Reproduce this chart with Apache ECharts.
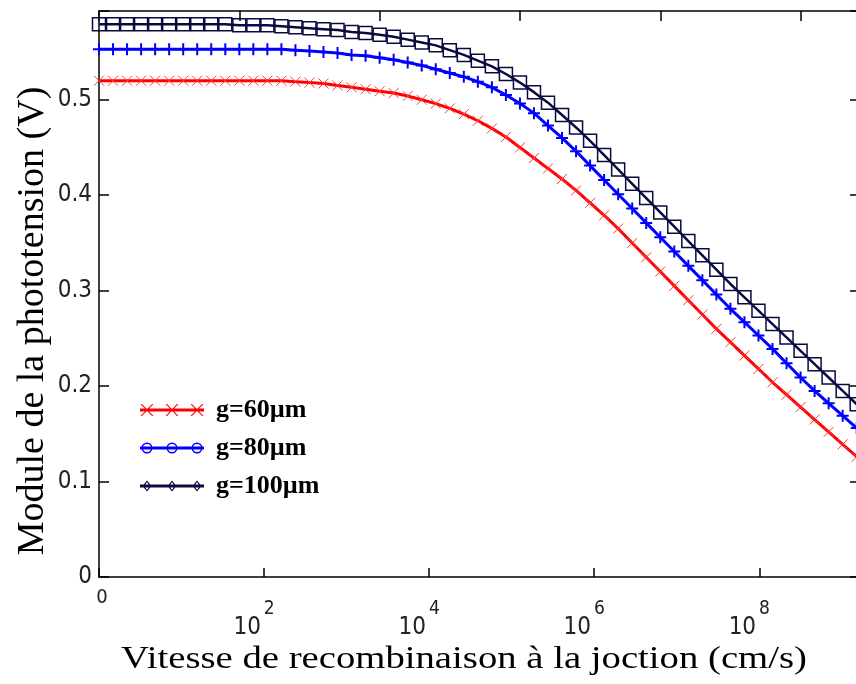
<!DOCTYPE html>
<html>
<head>
<meta charset="utf-8">
<title>Module de la phototension</title>
<script src="https://cdn.jsdelivr.net/npm/echarts@6/dist/echarts.min.js"></script>
<style>
  html, body { margin: 0; padding: 0; background: #fff; }
  #chart { width: 856px; height: 684px; }
</style>
</head>
<body>
<div id="chart"></div>
<script>
// abscisse : exposant de la vitesse S (cm/s), 0 -> 10^0
var sExp = [0, 0.17, 0.34, 0.51, 0.68, 0.85, 1.02, 1.19, 1.36, 1.53,
  1.70, 1.87, 2.04, 2.21, 2.38, 2.55, 2.72, 2.89, 3.06, 3.23,
  3.40, 3.57, 3.74, 3.91, 4.08, 4.25, 4.42, 4.59, 4.76, 4.93,
  5.10, 5.27, 5.44, 5.61, 5.78, 5.95, 6.12, 6.29, 6.46, 6.63,
  6.80, 6.97, 7.14, 7.31, 7.48, 7.65, 7.82, 7.99, 8.16, 8.33,
  8.50, 8.67, 8.84, 9.01, 9.18];

// module de la phototension (V)
var vG60 = [0.520, 0.520, 0.520, 0.520, 0.520, 0.520, 0.520, 0.520, 0.520, 0.520,
  0.520, 0.520, 0.520, 0.520, 0.519, 0.518, 0.517, 0.515, 0.513, 0.511,
  0.509, 0.507, 0.504, 0.500, 0.496, 0.491, 0.485, 0.478, 0.470, 0.461,
  0.450, 0.439, 0.428, 0.417, 0.405, 0.392, 0.379, 0.365, 0.350, 0.335,
  0.320, 0.305, 0.290, 0.275, 0.260, 0.246, 0.232, 0.218, 0.204, 0.191,
  0.178, 0.165, 0.152, 0.139, 0.126];
var vG80 = [0.553, 0.553, 0.553, 0.553, 0.553, 0.553, 0.553, 0.553, 0.553, 0.553,
  0.553, 0.553, 0.553, 0.553, 0.552, 0.551, 0.550, 0.549, 0.547, 0.546,
  0.544, 0.542, 0.539, 0.536, 0.532, 0.528, 0.524, 0.519, 0.513, 0.505,
  0.496, 0.486, 0.473, 0.460, 0.446, 0.431, 0.416, 0.401, 0.386, 0.371,
  0.356, 0.341, 0.326, 0.311, 0.296, 0.281, 0.267, 0.253, 0.239, 0.224,
  0.209, 0.195, 0.182, 0.169, 0.156];
var vG100 = [0.579, 0.579, 0.579, 0.579, 0.579, 0.579, 0.579, 0.579, 0.579, 0.579,
  0.578, 0.578, 0.578, 0.577, 0.576, 0.575, 0.574, 0.573, 0.571, 0.570,
  0.568, 0.566, 0.563, 0.560, 0.557, 0.552, 0.547, 0.541, 0.535, 0.527,
  0.518, 0.508, 0.497, 0.484, 0.471, 0.457, 0.442, 0.427, 0.412, 0.397,
  0.382, 0.367, 0.352, 0.337, 0.322, 0.307, 0.293, 0.279, 0.265, 0.251,
  0.237, 0.223, 0.209, 0.195, 0.181];

var names = ['g=60µm', 'g=80µm', 'g=100µm'];
var xTickExp = [0, 2, 4, 6, 8];
var yTicks = [0, 0.1, 0.2, 0.3, 0.4, 0.5];

var narrow = "'Liberation Sans Narrow', 'DejaVu Sans Condensed', 'Liberation Sans', sans-serif";
var serif = "'Liberation Serif', 'DejaVu Serif', serif";

function pairs(ys) {
  return sExp.map(function (e, i) { return [e, ys[i]]; });
}

// icones de legende (trait + 3 marqueurs), 64 x 12
var iconX = 'path://M0 4.5H64V7.5H0Z' +
  'M0.5 0H2L13.5 12H12ZM12 0H13.5L2 12H0.5Z' +
  'M25.5 0H27L38.5 12H37ZM37 0H38.5L27 12H25.5Z' +
  'M50.5 0H52L63.5 12H62ZM62 0H63.5L52 12H50.5Z';
var iconO = 'path://M0 4.5H64V7.5H0Z' +
  'M12.5 6A5.5 5.5 0 1 1 1.5 6A5.5 5.5 0 1 1 12.5 6ZM11 6A4 4 0 1 0 3 6A4 4 0 1 0 11 6Z' +
  'M37.5 6A5.5 5.5 0 1 1 26.5 6A5.5 5.5 0 1 1 37.5 6ZM36 6A4 4 0 1 0 28 6A4 4 0 1 0 36 6Z' +
  'M62.5 6A5.5 5.5 0 1 1 51.5 6A5.5 5.5 0 1 1 62.5 6ZM61 6A4 4 0 1 0 53 6A4 4 0 1 0 61 6Z';
var iconD = 'path://M0 4.5H64V7.5H0Z' +
  'M7 0.5L11.5 6L7 11.5L2.5 6ZM7 2.3L4 6L7 9.7L10 6Z' +
  'M32 0.5L36.5 6L32 11.5L27.5 6ZM32 2.3L29 6L32 9.7L35 6Z' +
  'M57 0.5L61.5 6L57 11.5L52.5 6ZM57 2.3L54 6L57 9.7L60 6Z';

var chart = echarts.init(document.getElementById('chart'), null, { renderer: 'canvas' });

var frame = { color: '#000', width: 1.5 };

chart.setOption({
  animation: false,
  backgroundColor: '#fff',
  grid: { left: 99, right: -4, top: 11, bottom: 107, outerBoundsMode: 'none' },
  legend: {
    left: 135,
    top: 392,
    orient: 'vertical',
    itemWidth: 64,
    itemHeight: 12,
    itemGap: 12,
    selectedMode: false,
    textStyle: {
      fontFamily: serif, fontWeight: 'bold', fontSize: 26, color: '#000',
      lineHeight: 26, padding: [0, 0, 0, 7]
    },
    data: [
      { name: names[0], icon: iconX, itemStyle: { color: '#ff0000', borderWidth: 0 } },
      { name: names[1], icon: iconO, itemStyle: { color: '#0000ff', borderWidth: 0 } },
      { name: names[2], icon: iconD, itemStyle: { color: '#0a0a40', borderWidth: 0 } }
    ]
  },
  xAxis: [
    {
      type: 'value',
      position: 'bottom',
      min: 0,
      max: 9.22,
      interval: 2,
      axisLine: { show: true, onZero: false, lineStyle: frame },
      axisTick: { show: true, inside: true, length: 9, lineStyle: frame },
      splitLine: { show: false },
      axisLabel: {
        margin: 43,
        verticalAlign: 'middle',
        formatter: function (v) {
          if (xTickExp.indexOf(v) < 0) return '';
          if (v === 0) return '{z|0}';
          return '{b|10}{sup|' + v + '}';
        },
        rich: {
          z: { fontFamily: narrow, fontSize: 20, color: '#222', padding: [0, 0, 44, 6] },
          b: { fontFamily: narrow, fontSize: 24, color: '#222', verticalAlign: 'bottom' },
          sup: { fontFamily: narrow, fontSize: 19, color: '#222', verticalAlign: 'top', padding: [0, 20, 21, 3] }
        }
      }
    },
    {
      type: 'value',
      position: 'top',
      min: 0,
      max: 9.22,
      interval: 1.7,
      axisLine: { show: true, onZero: false, lineStyle: frame },
      axisTick: { show: true, inside: true, length: 10, lineStyle: frame },
      axisLabel: { show: false },
      splitLine: { show: false }
    }
  ],
  yAxis: [
    {
      type: 'value',
      position: 'left',
      min: 0,
      max: 0.593,
      interval: 0.1,
      axisLine: { show: true, onZero: false, lineStyle: frame },
      axisTick: { show: true, inside: true, length: 10, lineStyle: frame },
      splitLine: { show: false },
      axisLabel: {
        margin: 7,
        fontFamily: narrow,
        fontSize: 24,
        color: '#222',
        padding: [5, 0, 0, 0],
        formatter: function (v) {
          for (var i = 0; i < yTicks.length; i++) {
            if (Math.abs(v - yTicks[i]) < 1e-6) return v === 0 ? '0' : yTicks[i].toFixed(1);
          }
          return '';
        }
      }
    },
    {
      type: 'value',
      position: 'right',
      min: 0,
      max: 0.593,
      interval: 0.1,
      axisLine: { show: true, onZero: false, lineStyle: frame },
      axisTick: { show: true, inside: true, length: 10, lineStyle: frame },
      axisLabel: { show: false },
      splitLine: { show: false }
    }
  ],
  graphic: [
    {
      type: 'text', silent: true,
      x: 464, y: 660, scaleX: 1.21,
      style: {
        text: 'Vitesse de recombinaison à la joction (cm/s)',
        fontFamily: serif, fontSize: 32, fill: '#000',
        align: 'center', verticalAlign: 'middle'
      }
    },
    {
      type: 'text', silent: true,
      x: 33, y: 321, rotation: Math.PI / 2,
      style: {
        text: 'Module de la phototension (V)',
        fontFamily: serif, fontSize: 38, fill: '#000',
        align: 'center', verticalAlign: 'middle'
      }
    }
  ],
  series: [
    {
      name: names[0],
      type: 'line',
      data: pairs(vG60),
      symbol: 'path://M0 0L10 10M10 0L0 10',
      symbolSize: 10,
      showAllSymbol: true,
      lineStyle: { color: '#ff0000', width: 3 },
      itemStyle: { color: '#ff0000', borderColor: '#ff3a3a', borderWidth: 1 },
      emphasis: { disabled: true },
      z: 2
    },
    {
      name: names[1],
      type: 'line',
      data: pairs(vG80),
      symbol: 'path://M6 0V12M0 6H12',
      symbolSize: 12,
      showAllSymbol: true,
      lineStyle: { color: '#0000ff', width: 3 },
      itemStyle: { color: '#0000ff', borderColor: '#0000ff', borderWidth: 2 },
      emphasis: { disabled: true },
      z: 3
    },
    {
      name: names[2],
      type: 'line',
      data: pairs(vG100),
      symbol: 'path://M0 0H13V13H0Z',
      symbolSize: 13,
      showAllSymbol: true,
      lineStyle: { color: '#0a0a40', width: 2.5 },
      itemStyle: { color: 'rgba(0,0,0,0)', borderColor: '#0a0a40', borderWidth: 1.5 },
      emphasis: { disabled: true },
      z: 4
    }
  ]
});

window.addEventListener('resize', function () { chart.resize(); });
</script>
</body>
</html>
